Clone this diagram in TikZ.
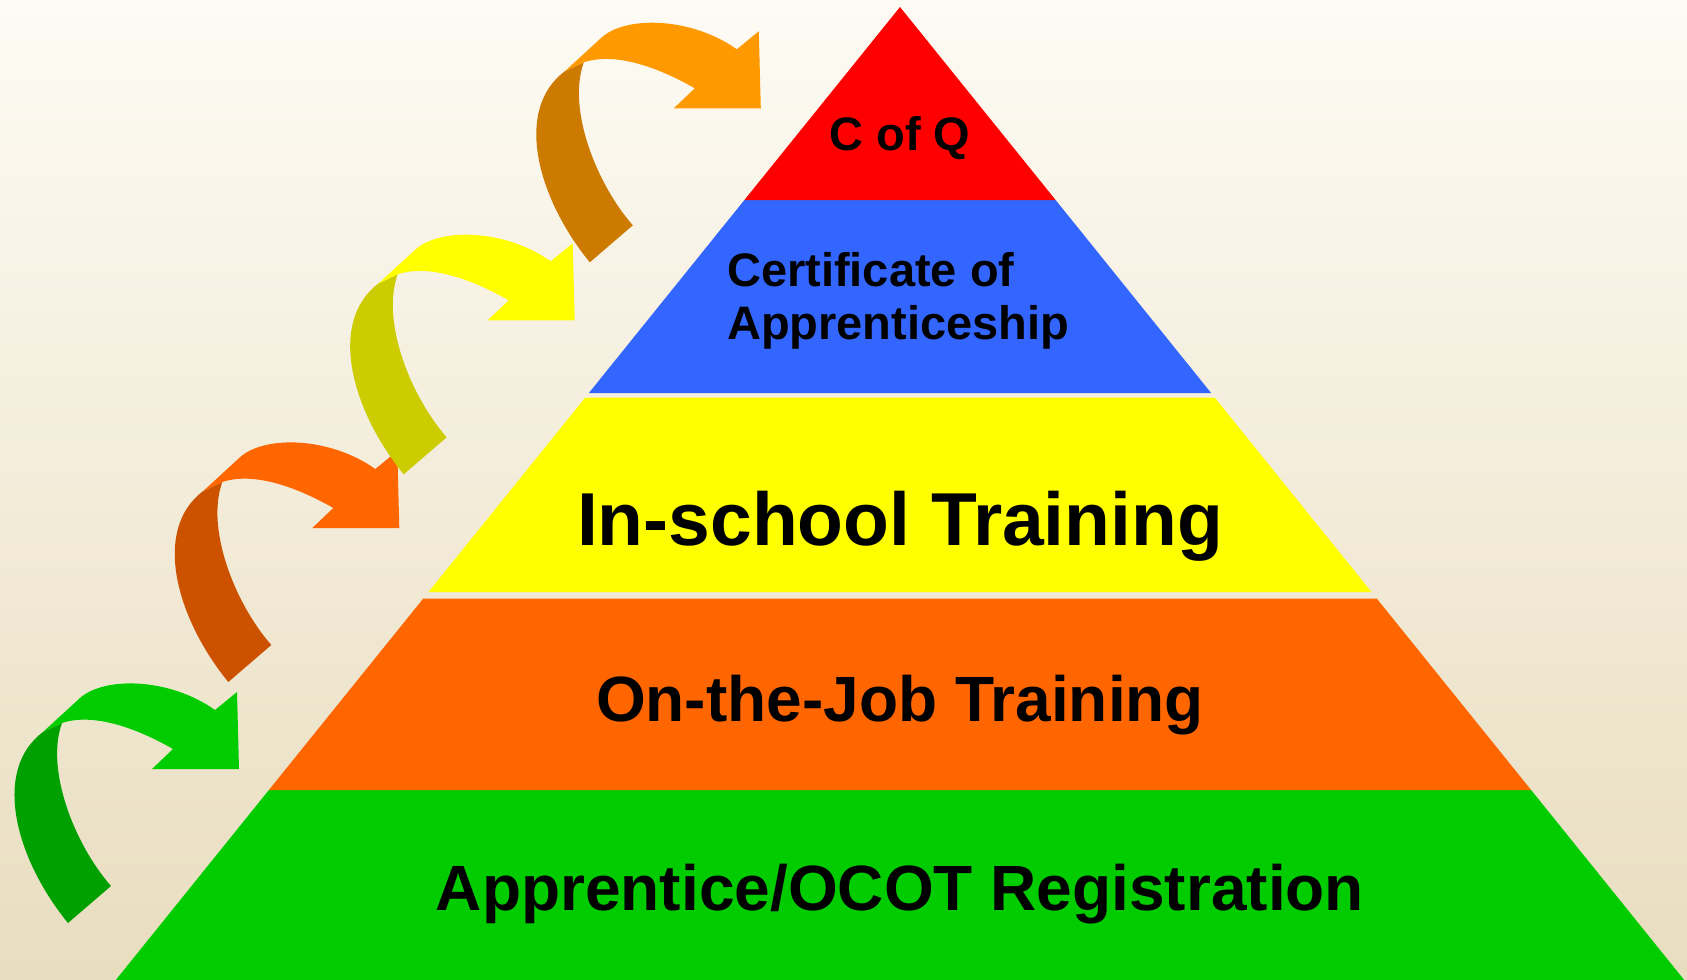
\documentclass[tikz,border=0pt]{standalone}
\usepackage{fontspec}
\setmainfont{Liberation Sans}

\definecolor{bgtop}{RGB}{253,251,244}
\definecolor{bgbot}{RGB}{233,221,191}
\definecolor{capred}{RGB}{255,0,0}
\definecolor{capblue}{RGB}{51,102,255}
\definecolor{capyellow}{RGB}{255,255,0}
\definecolor{caporange}{RGB}{255,102,0}
\definecolor{capgreen}{RGB}{0,204,0}
\definecolor{greenback}{RGB}{0,160,0}
\definecolor{orangeback}{RGB}{204,82,0}
\definecolor{yellowback}{RGB}{204,204,0}
\definecolor{goldfront}{RGB}{255,153,0}
\definecolor{goldback}{RGB}{204,122,0}

% one bent arrow: shift x, shift y, front colour, back colour
\newcommand{\bentarrow}[4]{%
  \begin{scope}[shift={(#1,#2)}]
    \fill[#4] (68,923) -- (111,886) .. controls (75,845) and (45,770) .. (62,723)
      -- (43,732) .. controls (-8,770) and (15,858) .. (68,923) -- cycle;
    \fill[#3] (43,732) -- (80,698) .. controls (105,676) and (170,678) .. (215,710)
      -- (237,692) -- (239,769) -- (152,769) -- (173,749)
      .. controls (140,730) and (95,712) .. (62,723) -- cycle;
  \end{scope}}

\begin{document}
\begin{tikzpicture}[x=1pt, y=-1pt,
  label/.style={inner sep=0pt, anchor=base, text=black}]
  % background
  \shade[top color=bgtop, bottom color=bgbot] (0,0) rectangle (1687,980);
  \useasboundingbox (0,0) rectangle (1687,980);

  %%%%%%%%%%%%%%%%%%
  % pyramid, bottom to top
  \fill[capgreen] (268.9,790) -- (1531.1,790) -- (1684.2,980) -- (115.8,980) -- cycle;
  \fill[caporange] (423.3,598.5) -- (1376.7,598.5) -- (1531.1,790) -- (268.9,790) -- cycle;
  \fill[capyellow] (585.3,397.5) -- (1214.7,397.5) -- (1371.5,592) -- (428.5,592) -- cycle;
  \fill[capblue] (744.4,200) -- (1055.6,200) -- (1211.1,393) -- (588.9,393) -- cycle;
  \fill[capred] (900,7) -- (1055.6,200) -- (744.4,200) -- cycle;

  %%%%%%%%%%%%%%%%%%
  \node (cofq) [label, font=\bfseries\fontsize{47}{53}\selectfont] at (900,150) {C of Q};

  \node (certificate) [label, anchor=base west, align=left,
    font=\bfseries\fontsize{47}{53}\selectfont] at (727,339) {Certificate of\\Apprenticeship};

  \node (inschool) [label, font=\bfseries\fontsize{75}{80}\selectfont] at (900,545) {In-school Training};

  \node (onthejob) [label, font=\bfseries\fontsize{64}{70}\selectfont] at (900,721) {On-the-Job Training};

  \node (registration) [label, font=\bfseries\fontsize{64}{70}\selectfont] at (900,910) {Apprentice/OCOT Registration};

  %%%%%%%%%%%%%%%%%%
  % steps up the side
  \bentarrow{0}{0}{capgreen}{greenback}
  \bentarrow{160.3}{-241}{caporange}{orangeback}
  \bentarrow{335.7}{-448.7}{capyellow}{yellowback}
  \bentarrow{521.8}{-660.7}{goldfront}{goldback}
\end{tikzpicture}
\end{document}
